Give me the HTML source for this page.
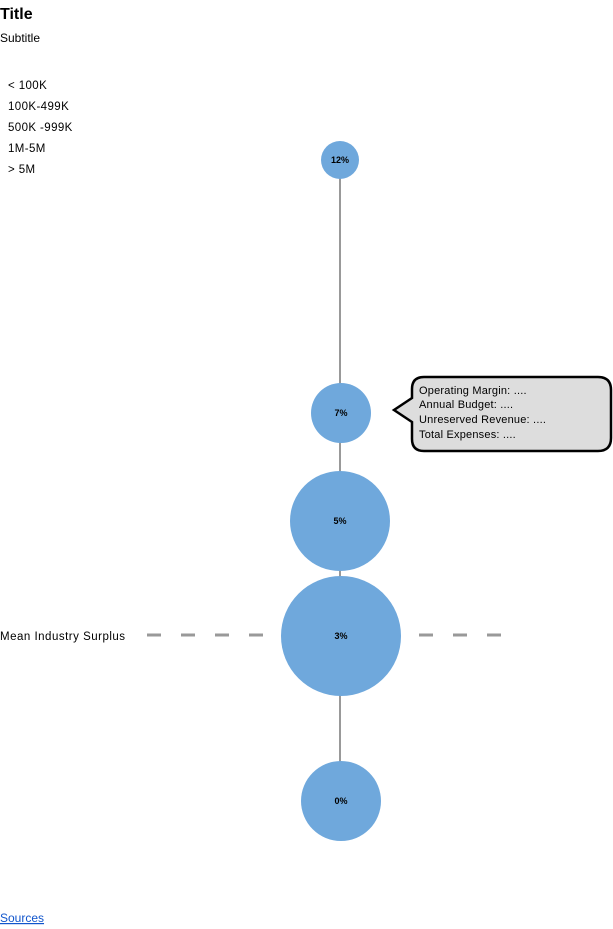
<!DOCTYPE html>
<html><head><style>
body{margin:0;background:#fff;}
svg{display:block;font-family:"Liberation Sans",sans-serif;}
</style></head><body>
<svg width="613" height="929" viewBox="0 0 613 929">
<text x="0" y="19" font-size="16" font-weight="bold">Title</text>
<text x="0" y="42" font-size="12">Subtitle</text>
<g font-size="11.5" letter-spacing="0.4">
<text x="8" y="89">&lt; 100K</text>
<text x="8" y="110">100K-499K</text>
<text x="8" y="131">500K -999K</text>
<text x="8" y="152">1M-5M</text>
<text x="8" y="173">&gt; 5M</text>
</g>
<line x1="147" y1="635" x2="520" y2="635" stroke="#999" stroke-width="3" stroke-dasharray="14,20"/>
<text x="0" y="640" font-size="11.5" letter-spacing="0.5">Mean Industry Surplus</text>
<line x1="340" y1="160" x2="340" y2="801" stroke="#999" stroke-width="2"/>
<g fill="#6fa8dc">
<circle cx="340" cy="160" r="19"/>
<circle cx="341" cy="413" r="30"/>
<circle cx="340" cy="521" r="50"/>
<circle cx="341" cy="636" r="60"/>
<circle cx="341" cy="801" r="40"/>
</g>
<g font-size="9" font-weight="bold" text-anchor="middle">
<text x="340" y="163">12%</text>
<text x="341" y="416">7%</text>
<text x="340" y="524">5%</text>
<text x="341" y="639">3%</text>
<text x="341" y="804">0%</text>
</g>
<path d="M424 377 H598 Q611 377 611 390 V438 Q611 451 598 451 H424 Q412 451 412 439 V422 L394 410 L412 398 V389 Q412 377 424 377 Z" fill="#ddd" stroke="#000" stroke-width="2.5"/>
<g font-size="11" letter-spacing="0.2">
<text x="419" y="394">Operating Margin: ....</text>
<text x="419" y="408">Annual Budget: ....</text>
<text x="419" y="423">Unreserved Revenue: ....</text>
<text x="419" y="438">Total Expenses: ....</text>
</g>
<text x="0" y="922" font-size="12" fill="#1155cc" text-decoration="underline">Sources</text>
</svg>
</body></html>
